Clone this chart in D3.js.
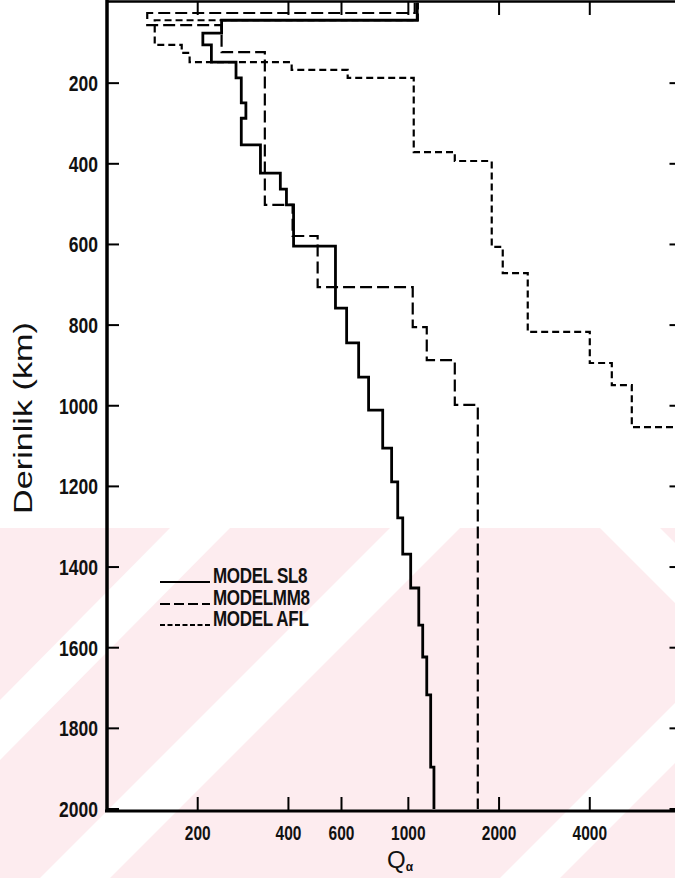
<!DOCTYPE html>
<html>
<head>
<meta charset="utf-8">
<script src="https://cdn.jsdelivr.net/npm/d3@7"></script>
<style>
  html, body { margin: 0; padding: 0; background: #fff; }
  svg { display: block; }
  .tick-label { font-family: "Liberation Sans", Arial, sans-serif; font-weight: bold; fill: #111; }
</style>
</head>
<body>
<svg id="chart" width="675" height="878"></svg>
<script>
// Attenuation models: Q (P waves) as a step function of depth.
// depth*: layer boundaries (km); q*: Q value inside each layer.
const depthSL8 = [0, 44, 76, 105, 148, 187, 249, 287, 353, 423, 463, 502, 604, 758, 844, 929, 1011, 1105, 1189, 1278, 1368, 1452, 1544, 1623, 1717, 1896, 2000];
const qSL8     = [1070, 240, 208, 222, 268, 279, 289, 279, 323, 376, 394, 416, 573, 624, 684, 738, 822, 880, 922, 958, 1018, 1083, 1116, 1151, 1186, 1216];

const depthMM8 = [0, 26, 56, 123, 502, 579, 706, 805, 887, 998, 2000];
const qMM8     = [1050, 136, 240, 334, 413, 500, 1034, 1151, 1426, 1700];

const depthAFL = [0, 44, 105, 125, 148, 167, 187, 371, 393, 606, 671, 817, 894, 949, 1053, 2000];
const qAFL     = [1075, 144, 177, 188, 410, 629, 1042, 1426, 1891, 2057, 2490, 4000, 4733, 5514, 9000];

const depthTicks = [200, 400, 600, 800, 1000, 1200, 1400, 1600, 1800, 2000];
const qTicks = [200, 400, 600, 1000, 2000, 4000];

const legendNames = ["MODEL SL8", "MODELMM8", "MODEL AFL"];

const svg = d3.select("#chart");
const W = 675, H = 878;
const plot = { left: 107, right: 680.5, top: 2.5, bottom: 809 };

const x = d3.scaleLog().domain([100, 8000]).range([plot.left, plot.right]);
const y = d3.scaleLinear().domain([0, 2000]).range([plot.top, plot.bottom]);

// faint watermark in the lower part of the page
const wm = svg.append("g");
wm.append("rect").attr("x", 0).attr("y", 528).attr("width", W).attr("height", H - 528).attr("fill", "#fdecef");
const bands = [
  [[0, 760], [0, 700], [170, 528], [230, 528]],
  [[40, 878], [110, 878], [460, 528], [390, 528]],
  [[500, 878], [560, 878], [675, 763], [675, 703]],
  [[600, 528], [660, 528], [675, 543], [675, 603]]
];
bands.forEach(b => wm.append("polygon").attr("points", b.map(p => p.join(",")).join(" ")).attr("fill", "#fff"));

svg.append("defs").append("clipPath").attr("id", "plotclip")
  .append("rect").attr("x", plot.left).attr("y", plot.top)
  .attr("width", plot.right - plot.left).attr("height", plot.bottom - plot.top);

function stepPoints(depths, qs) {
  const pts = [];
  qs.forEach((q, i) => {
    pts.push([q, depths[i]]);
    pts.push([q, depths[i + 1]]);
  });
  return pts;
}

const line = d3.line().x(p => x(p[0])).y(p => y(p[1]));

const series = [
  { d: depthMM8, q: qMM8, dash: "12,5", w: 2.2 },
  { d: depthAFL, q: qAFL, dash: "7,4", w: 2.2 },
  { d: depthSL8, q: qSL8, dash: null, w: 2.8 }
];

const lines = svg.append("g").attr("clip-path", "url(#plotclip)");
series.forEach(s => {
  lines.append("path")
    .attr("d", line(stepPoints(s.d, s.q)))
    .attr("fill", "none")
    .attr("stroke", "#000")
    .attr("stroke-width", s.w)
    .attr("stroke-dasharray", s.dash)
    .attr("stroke-linejoin", "miter");
});

// frame
const ax = svg.append("g");
ax.append("line").attr("x1", plot.left).attr("x2", plot.left).attr("y1", 0).attr("y2", plot.bottom + 2)
  .attr("stroke", "#000").attr("stroke-width", 3.5);
ax.append("line").attr("x1", plot.left - 2).attr("x2", W).attr("y1", plot.bottom + 2).attr("y2", plot.bottom + 2)
  .attr("stroke", "#000").attr("stroke-width", 3);
ax.append("line").attr("x1", plot.left).attr("x2", W).attr("y1", 1.5).attr("y2", 1.5)
  .attr("stroke", "#000").attr("stroke-width", 2.5);

// inward ticks
depthTicks.forEach(t => {
  ax.append("line").attr("x1", plot.left).attr("x2", plot.left + 12).attr("y1", y(t)).attr("y2", y(t))
    .attr("stroke", "#000").attr("stroke-width", 2);
  ax.append("line").attr("x1", plot.right - 11).attr("x2", plot.right).attr("y1", y(t)).attr("y2", y(t))
    .attr("stroke", "#000").attr("stroke-width", 2);
  ax.append("text").attr("class", "tick-label")
    .attr("transform", `translate(98,${y(t) + 8}) scale(1,1.3)`)
    .attr("text-anchor", "end").attr("font-size", 17.5).text(t);
});
qTicks.forEach(t => {
  ax.append("line").attr("x1", x(t)).attr("x2", x(t)).attr("y1", plot.bottom + 1).attr("y2", plot.bottom - 12)
    .attr("stroke", "#000").attr("stroke-width", 2);
  ax.append("line").attr("x1", x(t)).attr("x2", x(t)).attr("y1", 2).attr("y2", 15)
    .attr("stroke", "#000").attr("stroke-width", 2);
  ax.append("text").attr("class", "tick-label")
    .attr("transform", `translate(${x(t)},${840}) scale(1,1.3)`)
    .attr("text-anchor", "middle").attr("font-size", 15.5).text(t);
});

// axis titles
svg.append("text")
  .attr("transform", "translate(32,418) rotate(-90)")
  .attr("text-anchor", "middle")
  .attr("font-family", "Liberation Sans, Arial, sans-serif")
  .attr("font-size", 25)
  .attr("textLength", 192).attr("lengthAdjust", "spacingAndGlyphs")
  .attr("fill", "#111")
  .text("Derinlik (km)");

const qt = svg.append("text")
  .attr("x", 400).attr("y", 868)
  .attr("text-anchor", "middle")
  .attr("font-family", "Liberation Sans, Arial, sans-serif")
  .attr("font-size", 24)
  .attr("fill", "#111");
qt.append("tspan").text("Q");
qt.append("tspan").attr("font-size", 12).attr("dy", 3).attr("font-weight", "bold").text("α");

// legend
const lg = svg.append("g");
const legendDash = [null, "10,4", "5,2.5"];
const legendY = [582, 604, 625];
legendNames.forEach((name, i) => {
  lg.append("line").attr("x1", 160).attr("x2", 210).attr("y1", legendY[i]).attr("y2", legendY[i])
    .attr("stroke", "#000").attr("stroke-width", i === 0 ? 2.2 : 1.8)
    .attr("stroke-dasharray", legendDash[i]);
  lg.append("text").attr("class", "tick-label")
    .attr("transform", `translate(213,${legendY[i] + 1}) scale(1,1.25)`)
    .attr("font-size", 17).attr("letter-spacing", -0.3).text(name);
});
</script>
</body>
</html>
